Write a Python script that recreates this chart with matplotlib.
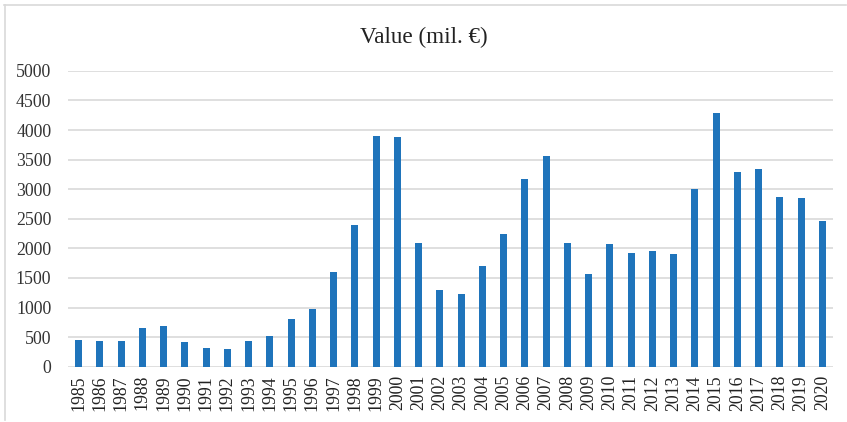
import matplotlib.pyplot as plt
from matplotlib.lines import Line2D

years = [str(y) for y in range(1985, 2021)]
values = [451, 434, 434, 660, 682, 417, 316, 304, 428, 519,
          806, 970, 1601, 2396, 3906, 3890, 2086, 1297, 1229, 1708,
          2244, 3174, 3563, 2086, 1567, 2069, 1917, 1956, 1905, 2999,
          4290, 3286, 3337, 2869, 2852, 2458]
y_ticks = list(range(0, 5001, 500))

BAR_COLOR = '#1f74bb'
GRID_COLOR = '#d9d9d9'

plt.rcParams['font.family'] = ['Liberation Serif', 'DejaVu Serif']

fig = plt.figure(figsize=(8.47, 4.22), dpi=100)
ax = fig.add_axes([0.0803, 0.131, 0.9032, 0.701])

x = range(len(years))
ax.bar(x, values, width=0.33, color=BAR_COLOR, zorder=3)

ax.set_xlim(-0.5, len(years) - 0.5)
ax.set_ylim(0, 5000)
ax.set_yticks(y_ticks)
ax.set_yticklabels([str(t) for t in y_ticks], fontsize=12.8, color='#333333')
ax.set_xticks(list(x))
ax.set_xticklabels(years, rotation=90, fontsize=12.8, color='#222222')
ax.tick_params(length=0, pad=6)
ax.tick_params(axis='y', pad=12)

ax.grid(axis='y', color=GRID_COLOR, linewidth=1.2, zorder=0)
for s in ax.spines.values():
  s.set_visible(False)

fig.text(0.5, 1 - 37/422, 'Value (mil. €)', fontsize=16.7, ha='center', va='center', color='#222222')

# light frame on the top and left edges
fig.add_artist(Line2D([4/847, 846/847], [1 - 5/422, 1 - 5/422], color='#d9d9d9', linewidth=1.2))
fig.add_artist(Line2D([4.5/847, 4.5/847], [1 - 5/422, 2/422], color='#d9d9d9', linewidth=1.2))

plt.savefig('out.png', dpi=100)
